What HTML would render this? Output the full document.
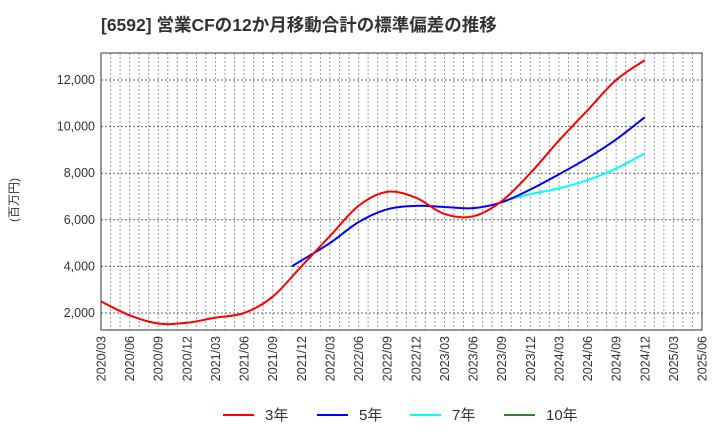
<!DOCTYPE html>
<html><head><meta charset="utf-8">
<style>
body{margin:0;background:#fff;font-family:"Liberation Sans","Noto Sans CJK JP",sans-serif;}
svg text{font-family:"Liberation Sans","Noto Sans CJK JP",sans-serif;}
</style></head>
<body>
<svg id="chart" width="720" height="440" xmlns="http://www.w3.org/2000/svg">
<text x="101" y="31" font-size="17.5" font-weight="bold" fill="#333">[6592]  営業CFの12か月移動合計の標準偏差の推移</text>
<text transform="translate(18,200) rotate(-90)" text-anchor="middle" font-size="12" fill="#333">(百万円)</text>
<g id="grid"></g>
<g id="series"></g>
<rect x="101" y="53" width="601" height="277" fill="none" stroke="#333" stroke-width="1"/>
<g id="legend"></g>
</svg>
<script>
// months since 2020/03
const yTicks=[2000,4000,6000,8000,10000,12000];
const xTickLabels=["2020/03","2020/06","2020/09","2020/12","2021/03","2021/06","2021/09","2021/12","2022/03","2022/06","2022/09","2022/12","2023/03","2023/06","2023/09","2023/12","2024/03","2024/06","2024/09","2024/12","2025/03","2025/06"];
const s3Months=[0,3,6,9,12,15,18,21,24,27,30,33,36,39,42,45,48,51,54,57];
const s3Values=[2500,1900,1550,1580,1800,2000,2700,4000,5300,6600,7200,6950,6250,6150,6800,8000,9400,10700,12000,12850];
const s5Months=[20,21,24,27,30,33,36,39,42,45,48,51,54,57];
const s5Values=[4000,4250,5000,5900,6450,6600,6550,6500,6750,7300,7950,8650,9450,10400];
const s7Months=[42,45,48,51,54,57];
const s7Values=[6800,7100,7350,7700,8200,8850];
const legendLabels=["3年","5年","7年","10年"];
const legendColors=["#ff0000","#0000ff","#00ffff","#228b22"];

const NS="http://www.w3.org/2000/svg";
const X0=101,X1=702,Y0=330,Y1=53;
const xs=m=>X0+m*(X1-X0)/63;
const ys=v=>313+(2000-v)*(233/10000);
function mk(t,a,p){const e=document.createElementNS(NS,t);for(const k in a)e.setAttribute(k,a[k]);p.appendChild(e);return e;}
const grid=document.getElementById('grid');
for(let m=1;m<63;m++){
  const l=mk('line',{x1:xs(m),x2:xs(m),y1:Y1,y2:Y0,stroke:'#999','stroke-width':1,'stroke-dasharray':'2,2'},grid);
  
  
}
yTicks.forEach(v=>{
  const l=mk('line',{x1:X0,x2:X1,y1:ys(v),y2:ys(v),stroke:'#666','stroke-width':1,'stroke-dasharray':'2,2'},grid);
  
  
  const t=mk('text',{x:X0-6,y:ys(v)+4,'text-anchor':'end','font-size':12.5,fill:'#333'},grid);
  t.textContent=v.toLocaleString('en-US');
  
  
});
xTickLabels.forEach((s,i)=>{
  const x=xs(i*3);
  const t=mk('text',{transform:`translate(${x+4.5},${Y0+6}) rotate(-90)`,'text-anchor':'end','font-size':12.5,fill:'#333'},grid);
  t.textContent=s;
  
  
});
function path(ms,vs){
  const p=ms.map((m,i)=>[xs(m),ys(vs[i])]);
  let d=`M${p[0][0]},${p[0][1]}`;
  for(let i=0;i<p.length-1;i++){
    const a=p[Math.max(0,i-1)],b=p[i],c=p[i+1],e=p[Math.min(p.length-1,i+2)];
    d+=` C${b[0]+(c[0]-a[0])/6},${b[1]+(c[1]-a[1])/6} ${c[0]-(e[0]-b[0])/6},${c[1]-(e[1]-b[1])/6} ${c[0]},${c[1]}`;
  }
  return d;
}
const sg=document.getElementById('series');
const p7=mk('path',{d:path(s7Months,s7Values),fill:'none',stroke:legendColors[2],'stroke-width':2},sg);


const p5=mk('path',{d:path(s5Months,s5Values),fill:'none',stroke:legendColors[1],'stroke-width':2},sg);


const p3=mk('path',{d:path(s3Months,s3Values),fill:'none',stroke:legendColors[0],'stroke-width':2},sg);


const lg=document.getElementById('legend');
const lx=[223,317,410,504];
legendLabels.forEach((s,i)=>{
  const l=mk('line',{x1:lx[i],x2:lx[i]+31,y1:415,y2:415,stroke:legendColors[i],'stroke-width':2},lg);
  
  
  const t=mk('text',{x:lx[i]+42,y:420,'font-size':15,fill:'#333'},lg);
  t.textContent=s;
  
  
});
</script>
</body></html>
